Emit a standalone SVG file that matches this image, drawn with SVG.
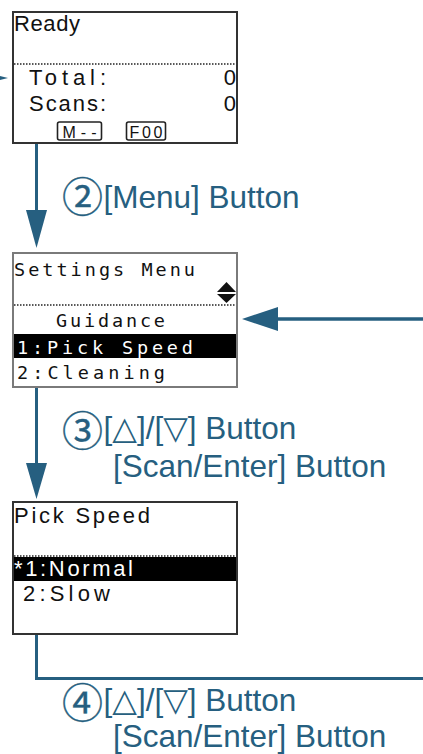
<svg xmlns="http://www.w3.org/2000/svg" width="423" height="754" viewBox="0 0 423 754">
<defs>
<style>
.scr{fill:#fff;stroke-width:2}
.dot{stroke:#222;stroke-width:1.5;stroke-dasharray:1.5 1.5;fill:none}
.lcd{font-family:"Liberation Sans",Arial,sans-serif;font-size:22px;fill:#111}
.mono{font-family:"DejaVu Sans Mono","Liberation Mono",monospace;font-size:18.5px;fill:#111}
.btn{fill:#fff;stroke:#222;stroke-width:1.6}
.btxt{font-family:"Liberation Sans",Arial,sans-serif;font-size:16px;fill:#111}
.con{stroke:#265f80;stroke-width:3;fill:none}
.head{fill:#265f80}
.lbl{font-family:"Liberation Sans",Arial,sans-serif;font-size:31.5px;fill:#265f80}
.tri{font-family:"DejaVu Sans",sans-serif;font-size:32px}
.num{font-family:"Noto Sans CJK JP","DejaVu Sans",sans-serif;font-size:41px;stroke:#265f80;stroke-width:0.35}
</style>
</defs>
<g id="connectors">
<polygon class="head" points="0,76,8,78,0,80"/>
<line class="con" x1="36.5" y1="144" x2="36.5" y2="212"/>
<polygon class="head" points="26,210 47,210 36.5,248"/>
<line class="con" x1="276" y1="319" x2="423" y2="319" style="stroke-width:3.5"/>
<polygon class="head" points="278,307 278,331 242,319"/>
<line class="con" x1="36.5" y1="388" x2="36.5" y2="465"/>
<polygon class="head" points="26,463 47,463 36.5,499"/>
<polyline class="con" points="36.5,635 36.5,678.5 423,678.5"/>
</g>
<g id="screen-ready">
<rect class="scr" x="13" y="12" width="224" height="131" stroke="#333"/>
<line class="dot" x1="14" y1="64" x2="236" y2="64"/>
<text class="lcd" x="14" y="31" textLength="66" lengthAdjust="spacing">Ready</text>
<text class="lcd" x="29" y="85" textLength="77" lengthAdjust="spacing">Total:</text>
<text class="lcd" x="236" y="85" text-anchor="end">0</text>
<text class="lcd" x="29" y="111" textLength="77" lengthAdjust="spacing">Scans:</text>
<text class="lcd" x="236" y="111" text-anchor="end">0</text>
<rect class="btn" x="57.5" y="122" width="44" height="18" rx="2"/>
<text class="btxt" x="79.5" y="137.5" text-anchor="middle" textLength="34" lengthAdjust="spacing">M--</text>
<rect class="btn" x="126.5" y="122" width="39" height="18" rx="2"/>
<text class="btxt" x="146" y="137.5" text-anchor="middle" textLength="33" lengthAdjust="spacing">F00</text>
</g>
<g id="label-menu">
<text class="lbl"><tspan class="num" x="62" y="212">②</tspan><tspan x="103.5" y="208">[Menu] Button</tspan></text>
</g>
<g id="screen-settings">
<rect class="scr" x="13" y="253" width="224" height="134" stroke="#7a7a7a"/>
<text class="mono" x="14" y="276" textLength="181" lengthAdjust="spacing">Settings Menu</text>
<polygon points="217,292 236,292 226.5,282" fill="#111"/>
<polygon points="217,294 236,294 226.5,303" fill="#111"/>
<line class="dot" x1="14" y1="305" x2="236" y2="305"/>
<text class="mono" x="56" y="327" textLength="109" lengthAdjust="spacing">Guidance</text>
<rect x="14" y="334" width="222" height="24" fill="#000"/>
<text class="mono" x="17" y="354" textLength="176" lengthAdjust="spacing" style="fill:#fff">1:Pick Speed</text>
<text class="mono" x="17" y="379" textLength="148" lengthAdjust="spacing">2:Cleaning</text>
</g>
<g id="label-select1">
<text class="lbl"><tspan class="num" x="62" y="446">③</tspan><tspan x="103.5" y="439">[<tspan class="tri">△</tspan>]/[<tspan class="tri">▽</tspan>] Button</tspan><tspan x="113" y="477">[Scan/Enter] Button</tspan></text>
</g>
<g id="screen-pickspeed">
<rect class="scr" x="13" y="502" width="224" height="132" stroke="#333"/>
<text class="lcd" x="14" y="523" textLength="136" lengthAdjust="spacing">Pick Speed</text>
<line class="dot" x1="14" y1="556" x2="236" y2="556"/>
<rect x="14" y="557" width="222" height="24" fill="#000"/>
<text class="lcd" x="14" y="576" textLength="119" lengthAdjust="spacing" style="fill:#fff">*1:Normal</text>
<text class="lcd" x="23" y="601" textLength="87" lengthAdjust="spacing">2:Slow</text>
</g>
<g id="label-select2">
<text class="lbl"><tspan class="num" x="62" y="718">④</tspan><tspan x="103.5" y="711">[<tspan class="tri">△</tspan>]/[<tspan class="tri">▽</tspan>] Button</tspan><tspan x="113" y="747">[Scan/Enter] Button</tspan></text>
</g>
</svg>
